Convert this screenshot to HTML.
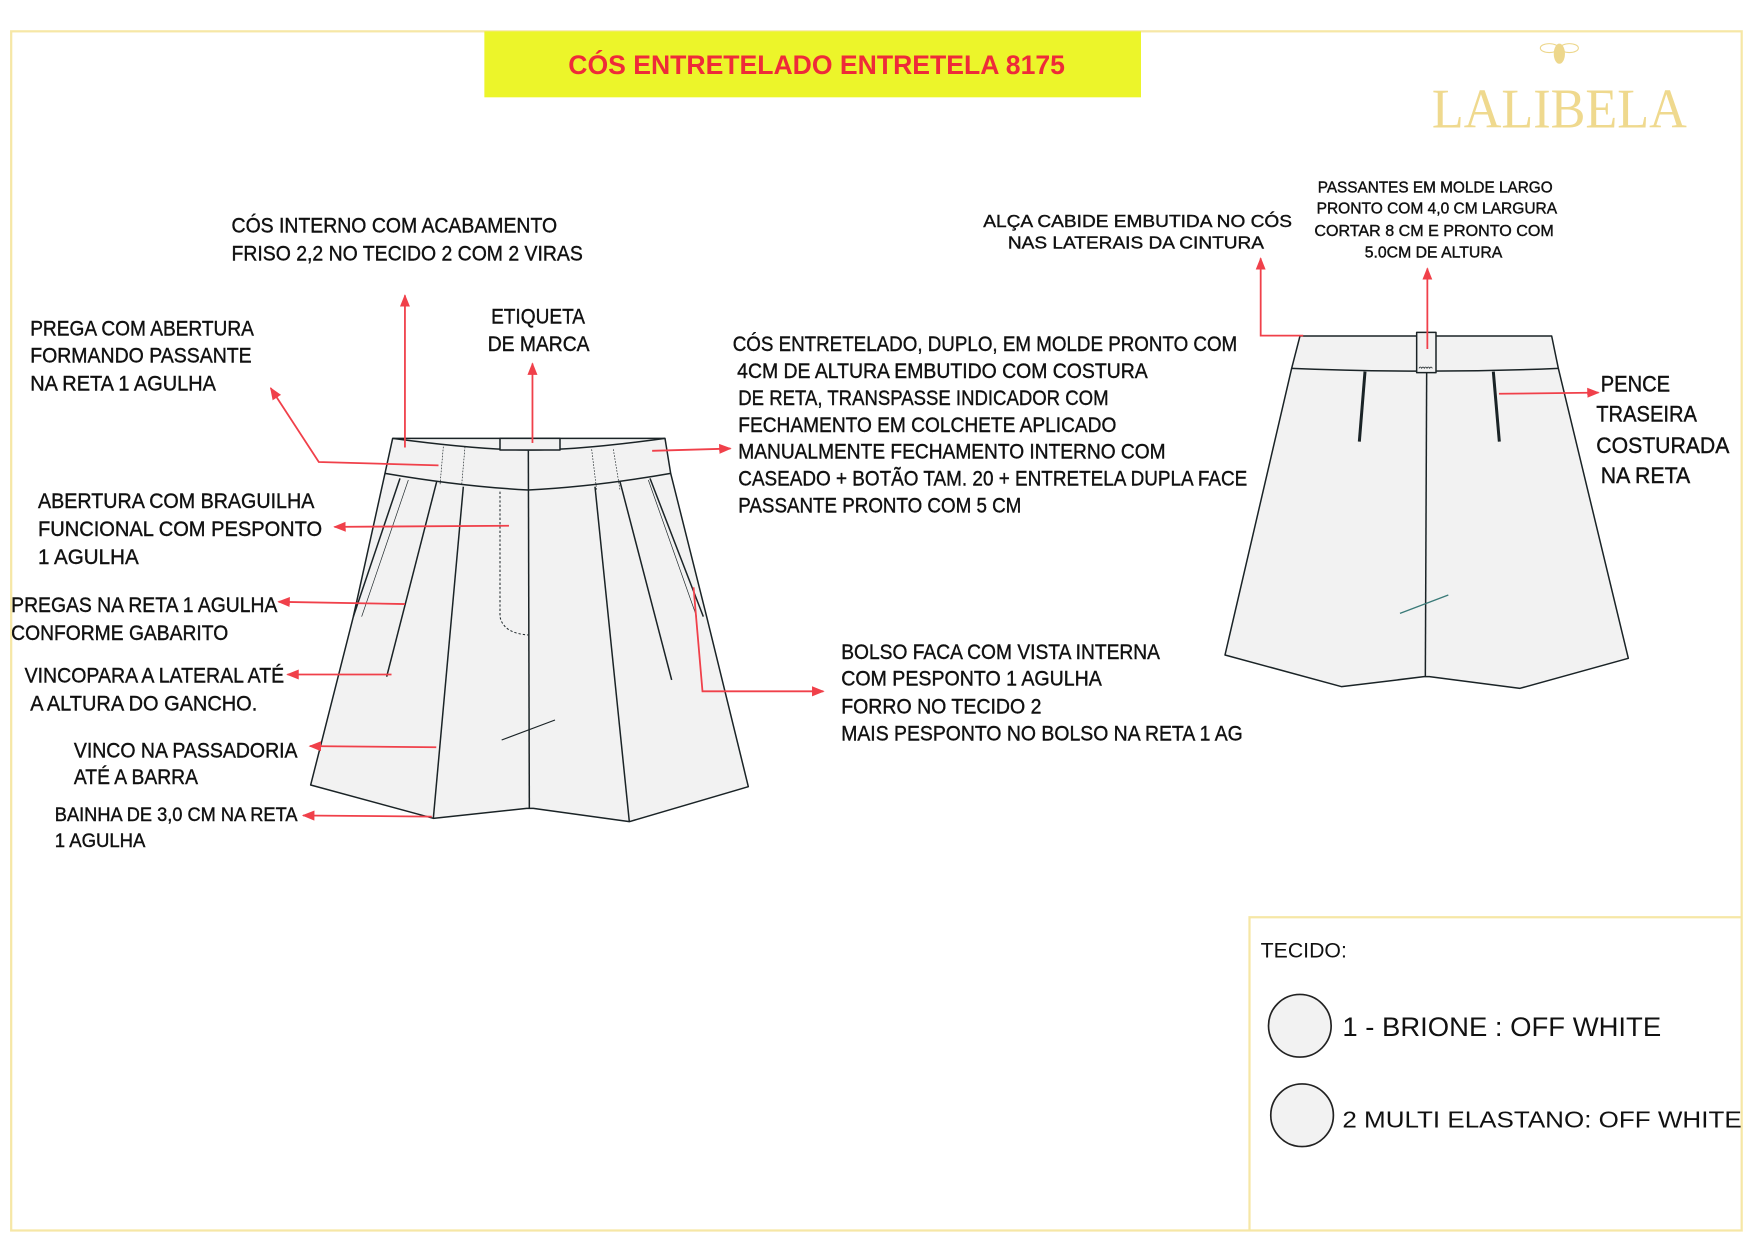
<!DOCTYPE html>
<html><head><meta charset="utf-8"><style>
html,body{margin:0;padding:0;background:#fff;}
svg{display:block;}
.t{font-family:"Liberation Sans Narrow","Liberation Sans",sans-serif;fill:#111;font-size:19px;stroke:#111;stroke-width:0.35;}
.r{stroke:#f0404a;stroke-width:1.6;fill:none;}
</style></head><body>
<svg width="1754" height="1240" viewBox="0 0 1754 1240" xmlns="http://www.w3.org/2000/svg">
<defs>
<marker id="a" viewBox="0 0 10 10" refX="9" refY="5" markerWidth="7" markerHeight="7" orient="auto-start-reverse"><path d="M0,1 L10,5 L0,9 Z" fill="#f0404a"/></marker>
</defs>
<rect width="1754" height="1240" fill="#fff"/>

<g transform="translate(280,420) scale(0.33333)" stroke="#1a2326" stroke-width="4.5" fill="#f2f2f2" stroke-linejoin="round">
<path d="M338,55 L1155,55 L1172,160 L1280,590 L1405,1100 L1048,1205 L760,1165 L748,1165 L740,1165 L460,1195 L92,1095 L220,590 L315,160 Z"/>
<path d="M338,55 Q600,90 750,90 Q900,90 1155,55" fill="none"/>
<rect x="660" y="55" width="180" height="35"/>
<path d="M315,160 Q550,200 745,210 Q945,200 1172,160" fill="none"/>
<line x1="745" y1="92" x2="748" y2="1165"/>
<path d="M470,185 L320,770" fill="none"/>
<path d="M550,200 L460,1195" fill="none"/>
<path d="M360,175 L220,590" fill="none"/>
<path d="M1020,185 L1175,780" fill="none"/>
<path d="M945,200 L1048,1205" fill="none"/>
<path d="M1110,175 L1270,590" fill="none"/>
<path d="M385,180 L245,590" fill="none" stroke-width="2"/>
<path d="M1105,180 L1250,590" fill="none" stroke-width="2"/>
<path d="M490,80 L480,195 M555,80 L545,195 M935,88 L950,210 M1000,88 L1020,210" fill="none" stroke-width="2" stroke-dasharray="5,4"/>
<path d="M660,215 L660,590 Q670,640 745,645" fill="none" stroke-width="3" stroke-dasharray="7,6"/>
<line x1="665" y1="960" x2="825" y2="900" stroke-width="3.5"/>
</g>

<g transform="translate(1200,300) scale(0.33333)" stroke="#1a2326" stroke-width="4.5" fill="#f2f2f2" stroke-linejoin="round">
<path d="M300,108 L1055,108 L1075,205 L1285,1075 L960,1165 L688,1130 L680,1130 L672,1130 L425,1160 L75,1065 L275,205 Z"/>
<path d="M275,205 Q680,222 1075,205" fill="none"/>
<line x1="680" y1="218" x2="676" y2="1130"/>
<rect x="650" y="97" width="58" height="121"/>
<path d="M657,205 q4,-8 8,0 q4,-8 8,0 q4,-8 8,0 q4,-8 8,0 q4,-8 8,0" fill="none" stroke-width="2.5"/>
<line x1="495" y1="215" x2="478" y2="425" stroke-width="9"/>
<line x1="880" y1="215" x2="898" y2="425" stroke-width="9"/>
<line x1="600" y1="940" x2="745" y2="885" stroke="#3a7a78" stroke-width="4"/>
</g>

<g transform="scale(1.11862)">
<rect x="10" y="28" width="1547" height="1072" fill="none" stroke="#f6e7a6" stroke-width="2"/>
<rect x="433" y="28" width="587" height="59" fill="#ecf52a"/>
<text x="730" y="66" text-anchor="middle" font-family="Liberation Sans Narrow,Liberation Sans,sans-serif" font-weight="bold" font-size="24" fill="#ee2b39" textLength="444" lengthAdjust="spacingAndGlyphs">CÓS ENTRETELADO ENTRETELA 8175</text>
<g fill="#edd78c"><ellipse cx="1394" cy="48" rx="5" ry="9"/><ellipse cx="1385" cy="43" rx="8" ry="4" fill="none" stroke="#edd78c"/><ellipse cx="1403" cy="43" rx="8" ry="4" fill="none" stroke="#edd78c"/></g>
<text x="1394" y="114" text-anchor="middle" font-family="Liberation Serif,serif" font-size="50" fill="#efd98e" textLength="228" lengthAdjust="spacingAndGlyphs">LALIBELA</text>

<line class="r" x1="362" y1="400" x2="362" y2="264" marker-end="url(#a)"/>
<line class="r" x1="476" y1="396" x2="476" y2="325" marker-end="url(#a)"/>
<polyline class="r" points="392,416 285,413 242,347" marker-end="url(#a)"/>
<line class="r" x1="455" y1="470" x2="299" y2="471" marker-end="url(#a)"/>
<line class="r" x1="362" y1="540" x2="249" y2="538" marker-end="url(#a)"/>
<line class="r" x1="350" y1="603" x2="257" y2="603" marker-end="url(#a)"/>
<line class="r" x1="390" y1="668" x2="277" y2="667" marker-end="url(#a)"/>
<line class="r" x1="386" y1="730" x2="271" y2="729" marker-end="url(#a)"/>
<line class="r" x1="583" y1="403" x2="653" y2="401" marker-end="url(#a)"/>
<polyline class="r" points="620,525 628,618 736,618" marker-end="url(#a)"/>
<polyline class="r" points="1165,300 1127,300 1127,231" marker-end="url(#a)"/>
<line class="r" x1="1276" y1="312" x2="1276" y2="240" marker-end="url(#a)"/>
<line class="r" x1="1340" y1="352" x2="1429" y2="351" marker-end="url(#a)"/>

<g class="t">
<text x="207" y="208" textLength="291" lengthAdjust="spacingAndGlyphs">CÓS INTERNO COM ACABAMENTO</text>
<text x="207" y="233" textLength="314" lengthAdjust="spacingAndGlyphs">FRISO 2,2 NO TECIDO 2 COM  2 VIRAS</text>
<text x="27" y="300" textLength="200" lengthAdjust="spacingAndGlyphs">PREGA COM ABERTURA</text>
<text x="27" y="324" textLength="198" lengthAdjust="spacingAndGlyphs">FORMANDO PASSANTE</text>
<text x="27" y="349" textLength="166" lengthAdjust="spacingAndGlyphs">NA RETA 1 AGULHA</text>
<text x="439" y="289" textLength="84" lengthAdjust="spacingAndGlyphs">ETIQUETA</text>
<text x="436" y="314" textLength="91" lengthAdjust="spacingAndGlyphs">DE MARCA</text>
<text x="34" y="454" textLength="247" lengthAdjust="spacingAndGlyphs">ABERTURA COM BRAGUILHA</text>
<text x="34" y="479" textLength="254" lengthAdjust="spacingAndGlyphs">FUNCIONAL COM  PESPONTO</text>
<text x="34" y="504" textLength="90" lengthAdjust="spacingAndGlyphs">1 AGULHA</text>
<text x="10" y="547" textLength="238" lengthAdjust="spacingAndGlyphs">PREGAS NA RETA 1 AGULHA</text>
<text x="10" y="572" textLength="194" lengthAdjust="spacingAndGlyphs">CONFORME GABARITO</text>
<text x="22" y="610" textLength="232" lengthAdjust="spacingAndGlyphs">VINCOPARA A LATERAL ATÉ</text>
<text x="27" y="635" textLength="203" lengthAdjust="spacingAndGlyphs">A ALTURA DO GANCHO.</text>
<text x="66" y="677" textLength="200" lengthAdjust="spacingAndGlyphs">VINCO NA PASSADORIA</text>
<text x="66" y="701" textLength="111" lengthAdjust="spacingAndGlyphs">ATÉ A BARRA</text>
<text x="49" y="734" font-size="17" textLength="217" lengthAdjust="spacingAndGlyphs">BAINHA DE 3,0 CM NA RETA</text>
<text x="49" y="757" font-size="17" textLength="81" lengthAdjust="spacingAndGlyphs">1 AGULHA</text>
<text x="655" y="314" textLength="451" lengthAdjust="spacingAndGlyphs">CÓS ENTRETELADO, DUPLO, EM MOLDE PRONTO COM</text>
<text x="659" y="338" textLength="367" lengthAdjust="spacingAndGlyphs">4CM DE ALTURA EMBUTIDO COM  COSTURA</text>
<text x="660" y="362" textLength="331" lengthAdjust="spacingAndGlyphs">DE RETA, TRANSPASSE INDICADOR COM</text>
<text x="660" y="386" textLength="338" lengthAdjust="spacingAndGlyphs">FECHAMENTO EM COLCHETE  APLICADO</text>
<text x="660" y="410" textLength="382" lengthAdjust="spacingAndGlyphs">MANUALMENTE FECHAMENTO INTERNO COM</text>
<text x="660" y="434" textLength="455" lengthAdjust="spacingAndGlyphs">CASEADO + BOTÃO TAM. 20 + ENTRETELA DUPLA FACE</text>
<text x="660" y="458" textLength="253" lengthAdjust="spacingAndGlyphs">PASSANTE PRONTO COM 5 CM</text>
<text x="752" y="589" textLength="285" lengthAdjust="spacingAndGlyphs">BOLSO FACA COM VISTA INTERNA</text>
<text x="752" y="613" textLength="233" lengthAdjust="spacingAndGlyphs">COM PESPONTO 1 AGULHA</text>
<text x="752" y="638" textLength="179" lengthAdjust="spacingAndGlyphs">FORRO  NO TECIDO 2</text>
<text x="752" y="662" textLength="359" lengthAdjust="spacingAndGlyphs">MAIS PESPONTO NO BOLSO NA RETA 1 AG</text>
<text x="879" y="203" font-size="16" textLength="276" lengthAdjust="spacingAndGlyphs">ALÇA CABIDE EMBUTIDA NO CÓS</text>
<text x="901" y="222" font-size="16" textLength="229" lengthAdjust="spacingAndGlyphs">NAS LATERAIS DA CINTURA</text>
<text x="1178" y="172" font-size="14" textLength="210" lengthAdjust="spacingAndGlyphs">PASSANTES EM MOLDE LARGO</text>
<text x="1177" y="191" font-size="14" textLength="215" lengthAdjust="spacingAndGlyphs">PRONTO COM 4,0 CM LARGURA</text>
<text x="1175" y="211" font-size="14" textLength="214" lengthAdjust="spacingAndGlyphs">CORTAR 8  CM  E  PRONTO COM</text>
<text x="1220" y="230" font-size="14" textLength="123" lengthAdjust="spacingAndGlyphs">5.0CM DE ALTURA</text>
<text x="1431" y="350" font-size="20" textLength="62" lengthAdjust="spacingAndGlyphs">PENCE</text>
<text x="1427" y="377" font-size="20" textLength="90" lengthAdjust="spacingAndGlyphs">TRASEIRA</text>
<text x="1427" y="405" font-size="20" textLength="119" lengthAdjust="spacingAndGlyphs">COSTURADA</text>
<text x="1431" y="432" font-size="20" textLength="80" lengthAdjust="spacingAndGlyphs">NA RETA</text>
</g>

<polyline points="1117,1100 1117,820 1557,820" fill="none" stroke="#f6e7a6" stroke-width="2"/>
<text x="1127" y="856" font-family="Liberation Sans,sans-serif" font-size="19" fill="#111">TECIDO:</text>
<circle cx="1162" cy="917" r="28" fill="#f2f2f2" stroke="#222" stroke-width="1.5"/>
<circle cx="1164" cy="997" r="28" fill="#f2f2f2" stroke="#222" stroke-width="1.5"/>
<text x="1200" y="926" font-family="Liberation Sans,sans-serif" font-size="24" fill="#111" textLength="285" lengthAdjust="spacingAndGlyphs">1 - BRIONE : OFF WHITE</text>
<text x="1200" y="1008" font-family="Liberation Sans,sans-serif" font-size="21" fill="#111" textLength="357" lengthAdjust="spacingAndGlyphs">2  MULTI ELASTANO: OFF WHITE</text>
</g>
</svg>
</body></html>
